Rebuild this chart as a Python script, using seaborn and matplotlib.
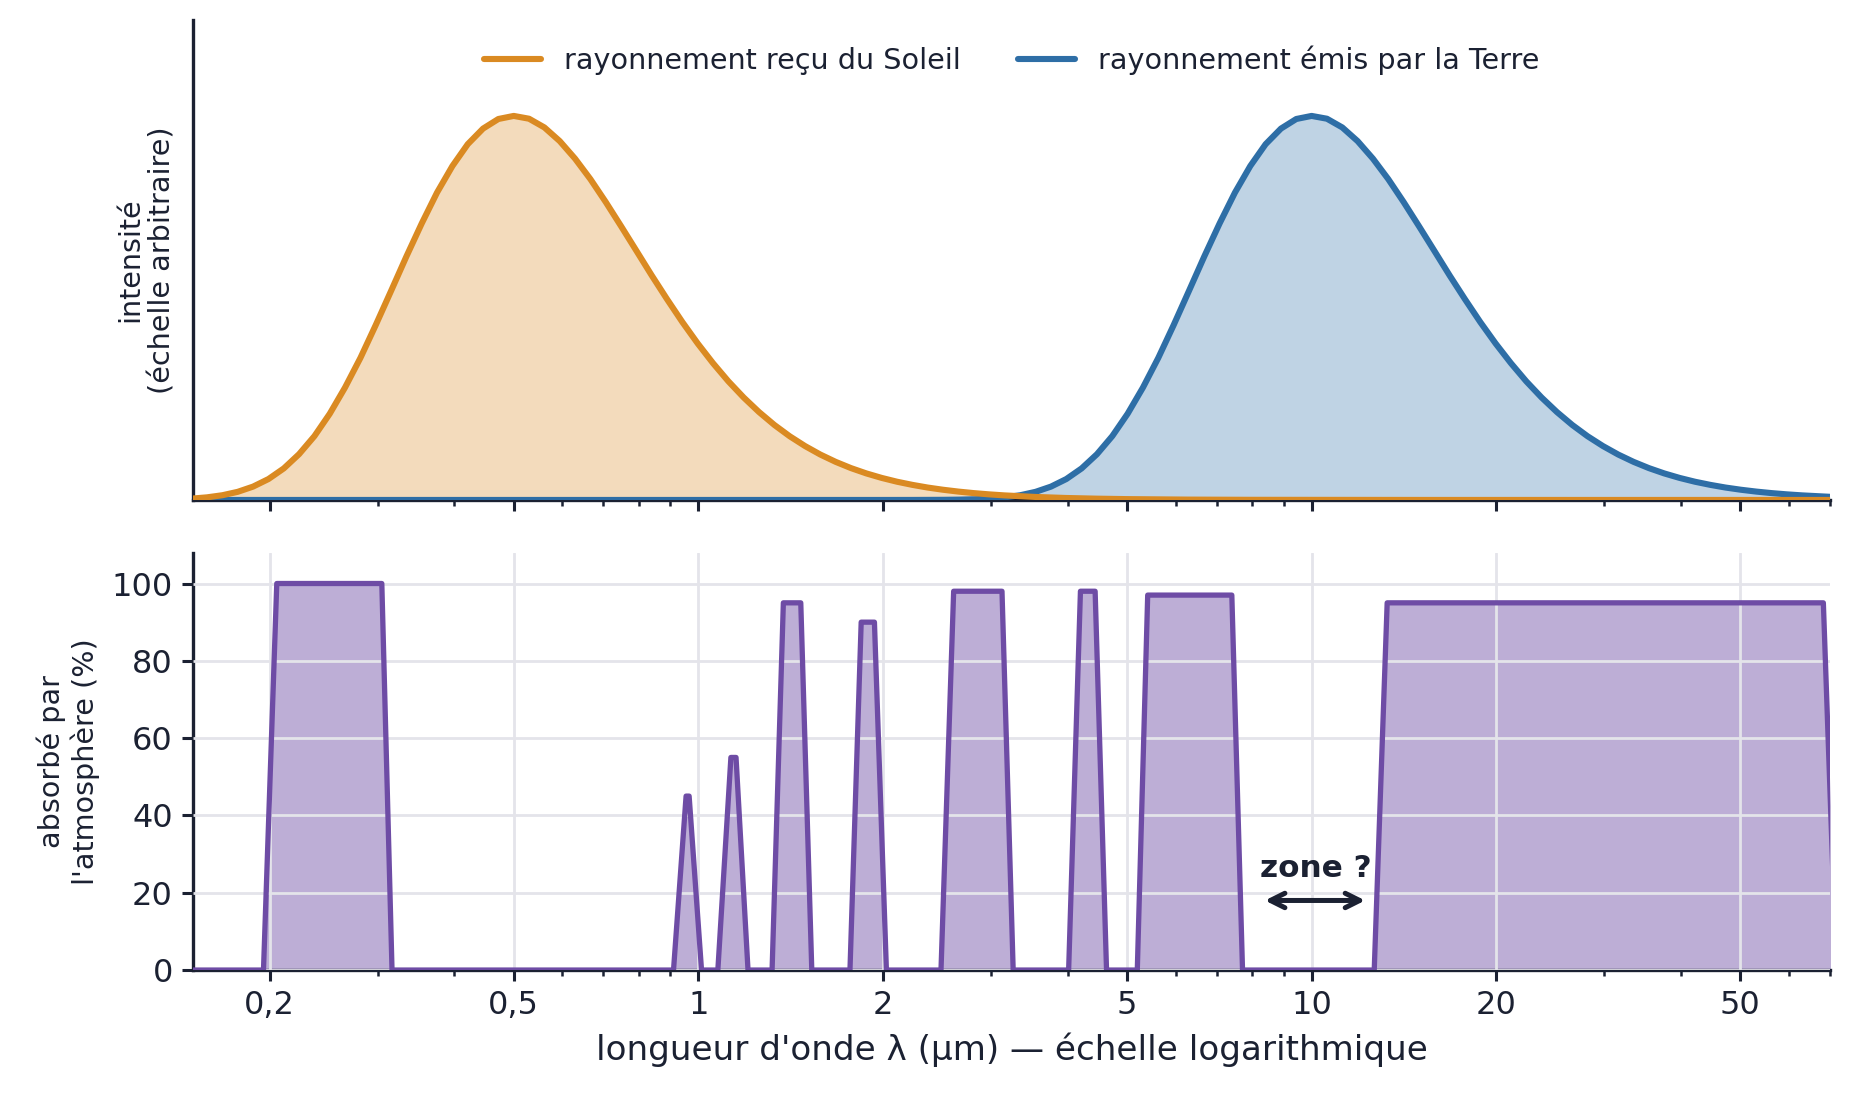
import matplotlib
matplotlib.use("Agg")
import matplotlib.pyplot as plt
import seaborn as sns
from matplotlib.ticker import FixedLocator, LogLocator, FuncFormatter, NullFormatter

# ---------------- data ----------------
sun_wl = [0.15, 0.1581, 0.1675, 0.1774, 0.1879, 0.1991, 0.2109, 0.2233, 0.2366, 0.2506,
          0.2654, 0.2812, 0.2978, 0.3155, 0.3342, 0.3540, 0.3749, 0.3972, 0.4207, 0.4456,
          0.4720, 0.5, 0.5296, 0.5610, 0.5943, 0.6295, 0.6668, 0.7063, 0.7481, 0.7924,
          0.8394, 0.8891, 0.9418, 0.9976, 1.0567, 1.1194, 1.1857, 1.2559, 1.3304, 1.4092,
          1.4927, 1.5811, 1.6748, 1.7741, 1.8792, 1.9905, 2.1085, 2.2334, 2.3658, 2.5059,
          2.6544, 2.8117, 2.9783, 3.1548, 3.5397, 3.9716, 4.4563, 5.0, 6.2946, 7.9245,
          15.85, 70.0]
sun_I = [0.0038, 0.00683, 0.01234, 0.0212, 0.03477, 0.0545, 0.0822, 0.1192, 0.1663, 0.2245,
         0.2928, 0.370, 0.4553, 0.5444, 0.6342, 0.7202, 0.8004, 0.8696, 0.9264, 0.967,
         0.992, 1.0, 0.9927, 0.970, 0.9344, 0.8887, 0.8354, 0.7758, 0.7130, 0.649,
         0.5847, 0.5228, 0.4632, 0.4075, 0.3561, 0.3089, 0.2667, 0.2289, 0.1953, 0.1659,
         0.1404, 0.1182, 0.0992, 0.0829, 0.0691, 0.0574, 0.0475, 0.0393, 0.0323, 0.0266,
         0.0218, 0.01785, 0.01458, 0.0119, 0.00787, 0.00518, 0.0034, 0.00221, 0.00093, 0.00039,
         0.00003, 0.0]

earth_wl = [0.15, 2.0, 2.2387, 2.5119, 2.6607, 2.8184, 2.9854, 3.1623, 3.3497, 3.5481,
            3.7584, 3.9811, 4.2170, 4.4668, 4.7315, 5.0119, 5.3088, 5.6234, 5.9566, 6.3096,
            6.6834, 7.0795, 7.4989, 7.9433, 8.4140, 8.9125, 9.4406, 10.0, 10.5925, 11.2202,
            11.885, 12.5893, 13.3352, 14.1254, 14.9624, 15.8489, 16.788, 17.7828, 18.8365, 19.9526,
            21.1349, 22.3872, 23.7137, 25.1189, 26.6073, 28.1838, 29.8538, 31.6228, 33.4965, 35.4813,
            37.5837, 39.8107, 42.1697, 44.6684, 47.3151, 50.1187, 53.0884, 56.2341, 59.5662, 63.0957,
            70.0]
earth_I = [0.0, 0.0, 0.00006, 0.00037, 0.00084, 0.00178, 0.00359, 0.00683, 0.01234, 0.0212,
           0.03477, 0.0545, 0.0822, 0.1192, 0.1663, 0.2245, 0.2928, 0.370, 0.4553, 0.5444,
           0.6342, 0.7202, 0.8004, 0.8696, 0.9264, 0.967, 0.992, 1.0, 0.9927, 0.970,
           0.9344, 0.8887, 0.8354, 0.7758, 0.7130, 0.649, 0.5847, 0.5228, 0.4632, 0.4075,
           0.3561, 0.3089, 0.2667, 0.2289, 0.1953, 0.1659, 0.1404, 0.1182, 0.0992, 0.0829,
           0.0691, 0.0574, 0.0475, 0.0393, 0.0323, 0.0266, 0.0218, 0.01785, 0.01458, 0.0119,
           0.0082]

abs_wl = [0.15, 0.1954, 0.2054, 0.3047, 0.3166,
          0.911, 0.955, 0.966, 1.012,
          1.076, 1.13, 1.152, 1.205,
          1.319, 1.376, 1.469, 1.531,
          1.767, 1.843, 1.937, 2.026,
          2.487, 2.608, 3.127, 3.261,
          4.016, 4.198, 4.436, 4.63,
          5.197, 5.404, 7.411, 7.715,
          12.65, 13.28, 68.3, 71.7]
abs_val = [0, 0, 100, 100, 0,
           0, 45, 45, 0,
           0, 55, 55, 0,
           0, 95, 95, 0,
           0, 90, 90, 0,
           0, 98, 98, 0,
           0, 98, 98, 0,
           0, 97, 97, 0,
           0, 95, 95, 0]

major_ticks = [0.2, 0.5, 1, 2, 5, 10, 20, 50]
y_ticks = [0, 20, 40, 60, 80, 100]
labels = ["rayonnement reçu du Soleil", "rayonnement émis par la Terre"]

# ---------------- style ----------------
TXT = "#1b2132"
ORANGE = "#da8a22"
BLUE = "#2e6ea6"
PURPLE = "#6e4ca5"
GRID = "#e4e4ea"

sns.set_theme(style="ticks", rc={
    "axes.edgecolor": TXT, "axes.labelcolor": TXT, "text.color": TXT,
    "xtick.color": TXT, "ytick.color": TXT, "axes.linewidth": 1.2,
})
plt.rcParams["font.family"] = ["DejaVu Sans"]

fig = plt.figure(figsize=(9.255, 5.47), dpi=200)
ax1 = fig.add_axes([0.1043, 0.5430, 0.8843, 0.4388])
ax2 = fig.add_axes([0.1043, 0.1133, 0.8843, 0.3816], sharex=ax1)

# ---------------- top panel ----------------
ax1.fill_between(sun_wl, sun_I, 0, color=ORANGE, alpha=0.30, lw=0, zorder=1)
ax1.fill_between(earth_wl, earth_I, 0, color=BLUE, alpha=0.30, lw=0, zorder=1)
sns.lineplot(x=earth_wl, y=earth_I, ax=ax1, color=BLUE, lw=2.2, sort=False,
             estimator=None, label=labels[1], zorder=3)
sns.lineplot(x=sun_wl, y=sun_I, ax=ax1, color=ORANGE, lw=2.2, sort=False,
             estimator=None, label=labels[0], zorder=3)
ax1.set_xscale("log")
ax1.set_xlim(0.15, 70)
ax1.set_ylim(0, 1.25)
ax1.set_yticks([])
ax1.set_ylabel("intensité\n(échelle arbitraire)", fontsize=10.3, labelpad=6)
h, l = ax1.get_legend_handles_labels()
order = [l.index(labels[0]), l.index(labels[1])]
ax1.legend([h[i] for i in order], [l[i] for i in order], loc="upper center",
           ncol=2, frameon=False, fontsize=10.3)
ax1.tick_params(axis="x", which="both", labelbottom=False)

# ---------------- bottom panel ----------------
ax2.fill_between(abs_wl, abs_val, 0, color=PURPLE, alpha=0.45, lw=0, zorder=1)
sns.lineplot(x=abs_wl, y=abs_val, ax=ax2, color=PURPLE, lw=1.9, sort=False,
             estimator=None, zorder=3)
ax2.set_ylim(0, 108)
ax2.set_yticks(y_ticks)
ax2.set_axisbelow(False)
ax2.grid(True, which="major", color=GRID, lw=1.0, zorder=2)
ax2.set_ylabel("absorbé par\nl'atmosphère (%)", fontsize=10.3)
ax2.set_xlabel("longueur d'onde λ (µm) — échelle logarithmique", fontsize=12.3)

ax2.annotate("", xy=(12.23, 18), xytext=(8.39, 18),
             arrowprops=dict(arrowstyle="<->", color=TXT, lw=1.8,
                             mutation_scale=13, shrinkA=0, shrinkB=0), zorder=5)
ax2.text(10.15, 26.4, "zone ?", ha="center", va="center", fontweight="bold",
         fontsize=11.2, color=TXT, zorder=5)

# ---------------- shared x axis ----------------
for ax in (ax1, ax2):
    ax.xaxis.set_major_locator(FixedLocator(major_ticks))
    ax.xaxis.set_minor_locator(LogLocator(base=10, subs=range(2, 10), numticks=20))
    ax.xaxis.set_minor_formatter(NullFormatter())
    ax.tick_params(axis="both", which="major", length=3.8, width=1.1, labelsize=11.5)
    ax.tick_params(axis="x", which="minor", length=2.0, width=0.9)
    sns.despine(ax=ax)
ax2.xaxis.set_major_formatter(FuncFormatter(lambda v, p: f"{v:g}".replace(".", ",")))
ax1.set_xlim(0.15, 70)

fig.savefig("out.png", dpi=200)
